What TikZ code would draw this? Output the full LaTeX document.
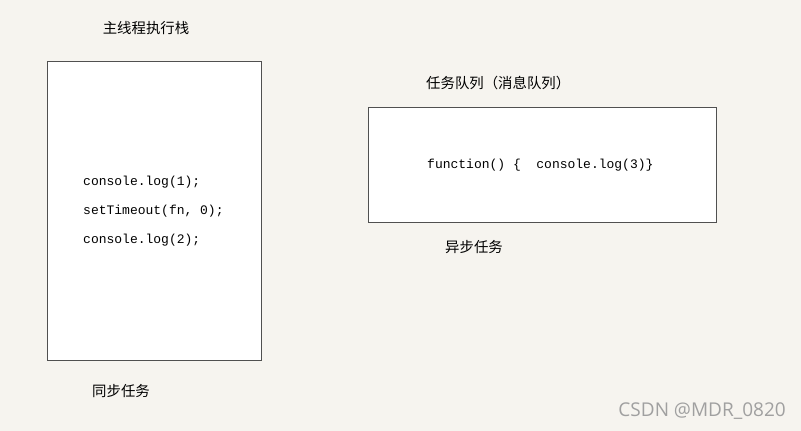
\documentclass[tikz,border=0pt]{standalone}
\usepackage{fontspec}
\setmainfont{Liberation Sans}
\setmonofont{Liberation Mono}
\newfontfamily\cjk{Noto Sans CJK SC}
\newfontfamily\wmfont{Open Sans}
\definecolor{bgc}{HTML}{F6F4EF}
\definecolor{boxline}{HTML}{505050}
\definecolor{wmgray}{HTML}{A0A0A0}
\tikzset{
  panel/.style={draw=boxline, line width=1pt, fill=white},
  cjklabel/.style={inner sep=0pt, font=\cjk\fontsize{14.4}{16}\selectfont, text=black},
  codeline/.style={inner sep=0pt, anchor=west, font=\ttfamily\fontsize{13}{15}\selectfont, text=black},
}
\begin{document}
\begin{tikzpicture}[x=1pt,y=-1pt]
\fill[bgc] (0,0) rectangle (801,431);
\useasboundingbox (0,0) rectangle (801,431);
\draw[panel] (47,61) rectangle (261,360);
\draw[panel] (368,107) rectangle (716,222);
\node[cjklabel] (stacktitle) at (146,28) {主线程执行栈};
\node[codeline] (c1) at (83,182) {console.log(1);};
\node[codeline] (c2) at (83,211) {setTimeout(fn, 0);};
\node[codeline] (c3) at (83,240) {console.log(2);};
\node[cjklabel] (sync) at (121,391) {同步任务};
\node[cjklabel, anchor=west] (queuetitle) at (426,83) {任务队列（消息队列）};
\node[codeline] (fn) at (427,165) {function() \{\ \ console.log(3)\}};
\node[cjklabel] (async) at (474,247) {异步任务};
\node[inner sep=0pt, anchor=east, font=\wmfont\fontsize{19}{21}\selectfont, text=wmgray] (wm) at (786,411) {CSDN @MDR\_0820};
\end{tikzpicture}
\end{document}
